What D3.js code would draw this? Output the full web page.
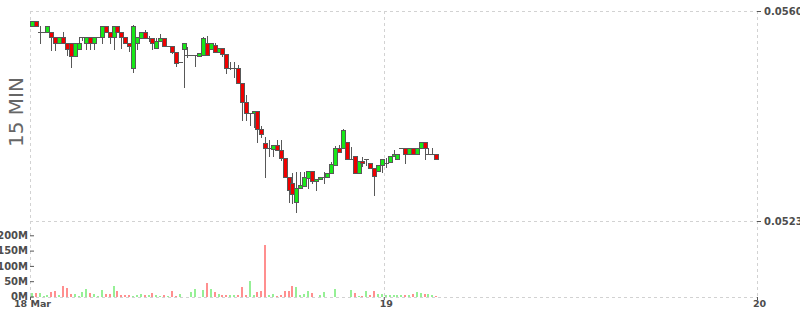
<!DOCTYPE html>
<html>
<head>
<meta charset="utf-8">
<script src="https://cdn.jsdelivr.net/npm/d3@7"></script>
<style>
  body { margin: 0; background: #fff; }
  svg { display: block; }
</style>
</head>
<body>
<div id="chart"></div>
<script>
// 15 minute candles, first one at 18 Mar 01:15
const start = new Date(2019, 2, 18, 1, 15);
const end = new Date(2019, 2, 20);
const stepMs = 15 * 60 * 1000;

const opens = [
  0.05574, 0.05582, 0.05563, 0.05563, 0.05563, 0.05563, 0.05554, 0.05544, 0.05554, 0.05544,
  0.05544, 0.05521, 0.05533, 0.05554, 0.05544, 0.05554, 0.05544, 0.05554, 0.05554, 0.05574,
  0.05563, 0.05554, 0.05574, 0.05563, 0.05554, 0.05544, 0.05500, 0.05544, 0.05552, 0.05563,
  0.05552, 0.05552, 0.05535, 0.05547, 0.05552, 0.05538, 0.05538, 0.05528, 0.05510, 0.05533,
  0.05522, 0.05522, 0.05522, 0.05521, 0.05522, 0.05544, 0.05533, 0.05540, 0.05528, 0.05535,
  0.05524, 0.05500, 0.05500, 0.05500, 0.05473, 0.05440, 0.05420, 0.05420, 0.05424, 0.05392,
  0.05367, 0.05359, 0.05357, 0.05364, 0.05355, 0.05341, 0.05308, 0.05297, 0.05263, 0.05288,
  0.05292, 0.05306, 0.05318, 0.05300, 0.05304, 0.05308, 0.05308, 0.05315, 0.05329, 0.05359,
  0.05359, 0.05369, 0.05339, 0.05345, 0.05315, 0.05336, 0.05339, 0.05332, 0.05323, 0.05318,
  0.05329, 0.05332, 0.05334, 0.05345, 0.05339, 0.05359, 0.05359, 0.05348, 0.05359, 0.05348,
  0.05359, 0.05369, 0.05348, 0.05348, 0.05348
];
const highs = [
  0.05582, 0.05582, 0.05574, 0.05563, 0.05574, 0.05563, 0.05554, 0.05554, 0.05563, 0.05544,
  0.05544, 0.05544, 0.05554, 0.05554, 0.05554, 0.05554, 0.05554, 0.05554, 0.05574, 0.05574,
  0.05563, 0.05574, 0.05574, 0.05563, 0.05554, 0.05544, 0.05575, 0.05554, 0.05563, 0.05567,
  0.05556, 0.05552, 0.05552, 0.05559, 0.05552, 0.05538, 0.05538, 0.05528, 0.05510, 0.05544,
  0.05537, 0.05522, 0.05522, 0.05526, 0.05554, 0.05556, 0.05544, 0.05544, 0.05535, 0.05535,
  0.05524, 0.05510, 0.05510, 0.05505, 0.05473, 0.05452, 0.05420, 0.05424, 0.05424, 0.05397,
  0.05378, 0.05373, 0.05364, 0.05373, 0.05373, 0.05341, 0.05308, 0.05315, 0.05316, 0.05316,
  0.05316, 0.05318, 0.05318, 0.05304, 0.05308, 0.05316, 0.05315, 0.05334, 0.05362, 0.05364,
  0.05392, 0.05369, 0.05360, 0.05345, 0.05336, 0.05343, 0.05339, 0.05332, 0.05323, 0.05329,
  0.05339, 0.05341, 0.05345, 0.05355, 0.05348, 0.05359, 0.05359, 0.05359, 0.05359, 0.05359,
  0.05369, 0.05369, 0.05359, 0.05359, 0.05348
];
const lows = [
  0.05574, 0.05574, 0.05544, 0.05563, 0.05563, 0.05531, 0.05531, 0.05544, 0.05544, 0.05522,
  0.05501, 0.05521, 0.05533, 0.05549, 0.05533, 0.05533, 0.05533, 0.05554, 0.05544, 0.05563,
  0.05544, 0.05533, 0.05563, 0.05535, 0.05544, 0.05530, 0.05493, 0.05533, 0.05552, 0.05552,
  0.05547, 0.05533, 0.05535, 0.05547, 0.05538, 0.05538, 0.05526, 0.05503, 0.05510, 0.05466,
  0.05519, 0.05522, 0.05503, 0.05521, 0.05522, 0.05522, 0.05533, 0.05528, 0.05528, 0.05521,
  0.05491, 0.05498, 0.05484, 0.05473, 0.05408, 0.05408, 0.05399, 0.05396, 0.05369, 0.05378,
  0.05308, 0.05345, 0.05345, 0.05355, 0.05337, 0.05308, 0.05263, 0.05262, 0.05246, 0.05288,
  0.05292, 0.05288, 0.05297, 0.05285, 0.05304, 0.05297, 0.05308, 0.05315, 0.05329, 0.05352,
  0.05359, 0.05339, 0.05339, 0.05315, 0.05315, 0.05327, 0.05329, 0.05323, 0.05276, 0.05318,
  0.05316, 0.05325, 0.05334, 0.05345, 0.05339, 0.05359, 0.05332, 0.05348, 0.05348, 0.05348,
  0.05359, 0.05339, 0.05348, 0.05348, 0.05339
];
const closes = [
  0.05582, 0.05574, 0.05563, 0.05563, 0.05574, 0.05554, 0.05544, 0.05554, 0.05544, 0.05533,
  0.05521, 0.05544, 0.05544, 0.05554, 0.05554, 0.05544, 0.05554, 0.05554, 0.05574, 0.05563,
  0.05554, 0.05574, 0.05563, 0.05554, 0.05544, 0.05538, 0.05574, 0.05554, 0.05563, 0.05552,
  0.05552, 0.05544, 0.05547, 0.05552, 0.05538, 0.05538, 0.05528, 0.05508, 0.05510, 0.05544,
  0.05522, 0.05522, 0.05522, 0.05526, 0.05552, 0.05522, 0.05544, 0.05528, 0.05535, 0.05524,
  0.05500, 0.05500, 0.05500, 0.05473, 0.05440, 0.05420, 0.05420, 0.05424, 0.05392, 0.05383,
  0.05359, 0.05359, 0.05364, 0.05355, 0.05341, 0.05308, 0.05285, 0.05278, 0.05288, 0.05293,
  0.05308, 0.05318, 0.05300, 0.05304, 0.05308, 0.05308, 0.05315, 0.05330, 0.05359, 0.05352,
  0.05390, 0.05339, 0.05339, 0.05315, 0.05336, 0.05332, 0.05339, 0.05323, 0.05309, 0.05329,
  0.05339, 0.05332, 0.05345, 0.05348, 0.05348, 0.05359, 0.05348, 0.05359, 0.05348, 0.05359,
  0.05369, 0.05359, 0.05348, 0.05348, 0.05339
];
// volume in millions
const volumesM = [
  10, 10, 10, 3, 4, 15, 18, 4, 35, 27,
  8, 8, 3, 15, 24, 12, 8, 3, 21, 8,
  8, 34, 18, 4, 4, 4, 2, 4, 8, 4,
  4, 11, 4, 2, 4, 2, 18, 2, 8, 0,
  0, 15, 24, 0, 21, 44, 24, 15, 8, 4,
  4, 4, 4, 4, 31, 4, 50, 4, 15, 19,
  169, 4, 8, 2, 4, 19, 19, 34, 31, 4,
  8, 18, 11, 0, 4, 15, 0, 0, 24, 0,
  0, 0, 21, 11, 2, 2, 18, 4, 18, 8,
  8, 4, 4, 4, 4, 4, 4, 4, 8, 15,
  11, 8, 8, 4, 2
];

const priceTicks = [0.0523, 0.056];
const volumeTicks = [0, 50, 100, 150, 200];
const dayTicks = [start, new Date(2019, 2, 19), end];
const dayLabels = ["18 Mar", "19", "20"];

// Chart dimensions.
const w = 800;
const h = 315;
const marginLeft = 30;
const plotRight = 757;
const priceTop = 11;
const priceBottom = 221;
const volBottom = 297;

const candles = opens.map((o, i) => ({
  t: new Date(+start + i * stepMs + stepMs / 2),
  o, h: highs[i], l: lows[i], c: closes[i], v: volumesM[i]
}));

const x = d3.scaleTime([start, end], [marginLeft, plotRight]);
const y = d3.scaleLinear([0.0523, 0.056], [priceBottom, priceTop]);
const yVol = d3.scaleLinear([0, 200], [296.5, 235.3]);

const svg = d3.select("#chart").append("svg")
  .attr("width", w)
  .attr("height", h)
  .attr("viewBox", [0, 0, w, h])
  .style("font-family", "'DejaVu Sans', Verdana, sans-serif");

// dashed grid
const grid = svg.append("g")
  .attr("stroke", "#d2d2d2")
  .attr("stroke-dasharray", "3,3")
  .attr("shape-rendering", "crispEdges");
grid.selectAll(".hline")
  .data([priceTop, priceBottom, volBottom])
  .join("line")
  .attr("x1", marginLeft).attr("x2", plotRight)
  .attr("y1", (d) => d + 0.5).attr("y2", (d) => d + 0.5);
grid.selectAll(".vline")
  .data(dayTicks)
  .join("line")
  .attr("x1", (d) => Math.round(x(d)) + 0.5).attr("x2", (d) => Math.round(x(d)) + 0.5)
  .attr("y1", priceTop).attr("y2", volBottom);

// volume bars
const up = (d) => d.c >= d.o;
svg.append("g")
  .attr("shape-rendering", "crispEdges")
  .selectAll("rect")
  .data(candles.filter((d) => d.v > 0))
  .join("rect")
  .attr("x", (d) => Math.round(x(d.t)) - 1)
  .attr("width", 2)
  .attr("y", (d) => Math.round(yVol(d.v)))
  .attr("height", (d) => volBottom - Math.round(yVol(d.v)))
  .attr("fill", (d) => (up(d) ? "#96f096" : "#ff8f8f"));

// candles
const candle = svg.append("g")
  .attr("shape-rendering", "crispEdges")
  .selectAll("g")
  .data(candles)
  .join("g")
  .attr("transform", (d) => `translate(${Math.round(x(d.t))},0)`);

candle.append("line")
  .attr("x1", 0.5).attr("x2", 0.5)
  .attr("y1", (d) => Math.round(y(d.h)))
  .attr("y2", (d) => Math.round(y(d.l)) + 1)
  .attr("stroke", "#585858");

candle.each(function (d) {
  const g = d3.select(this);
  const top = Math.round(y(Math.max(d.o, d.c)));
  const bot = Math.round(y(Math.min(d.o, d.c)));
  if (bot - top < 1) {
    g.append("line")
      .attr("x1", -2).attr("x2", 3)
      .attr("y1", top + 0.5).attr("y2", top + 0.5)
      .attr("stroke", "#585858");
  } else {
    g.append("rect")
      .attr("x", -1.5).attr("width", 4)
      .attr("y", top + 0.5).attr("height", bot - top)
      .attr("fill", up(d) ? "#17e817" : "#f00000")
      .attr("stroke", "#585858");
  }
});

// price axis on the right
svg.append("g")
  .attr("transform", `translate(${plotRight},0)`)
  .call(d3.axisRight(y).tickValues(priceTicks).tickFormat(d3.format(".4f")).tickSize(4).tickPadding(3))
  .call((g) => g.select(".domain").remove())
  .call((g) => g.selectAll(".tick line").attr("stroke", "#555"))
  .call((g) => g.selectAll(".tick text")
    .attr("fill", "#4d4d4d").attr("font-size", 10).attr("font-weight", "bold")
    .attr("font-family", "'DejaVu Sans', sans-serif"));

// volume axis on the left
svg.append("g")
  .attr("transform", `translate(${marginLeft},0)`)
  .call(d3.axisLeft(yVol).tickValues(volumeTicks).tickFormat((d) => d + "M").tickSize(-4).tickPadding(2))
  .call((g) => g.select(".domain").remove())
  .call((g) => g.selectAll(".tick line").attr("stroke", "#555"))
  .call((g) => g.selectAll(".tick text")
    .attr("fill", "#4d4d4d").attr("font-size", 10).attr("font-weight", "bold")
    .attr("font-family", "'DejaVu Sans', sans-serif"));

// date axis
svg.append("g")
  .attr("transform", `translate(0,${volBottom})`)
  .call(d3.axisBottom(x).tickValues(dayTicks).tickFormat((d, i) => dayLabels[i]).tickSize(3).tickPadding(0))
  .call((g) => g.select(".domain").remove())
  .call((g) => g.selectAll(".tick line").attr("stroke", "#555"))
  .call((g) => g.selectAll(".tick text")
    .attr("dx", 2)
    .attr("fill", "#4d4d4d").attr("font-size", 9.5).attr("font-weight", "bold")
    .attr("font-family", "'DejaVu Sans', sans-serif"));

// interval label
svg.append("text")
  .attr("transform", "translate(23,112) rotate(-90)")
  .attr("text-anchor", "middle")
  .attr("font-size", 20)
  .attr("fill", "#666")
  .text("15 MIN");
</script>
</body>
</html>
